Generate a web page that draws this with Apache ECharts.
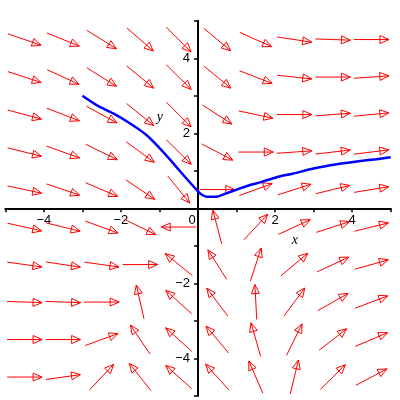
<!DOCTYPE html>
<html><head><meta charset="utf-8">
<script src="https://cdn.jsdelivr.net/npm/echarts@6/dist/echarts.min.js"></script>
<style>html,body{margin:0;padding:0;background:#fff}#c{width:400px;height:400px}</style>
</head><body><div id="c"></div>
<script>
// Direction-field sample points (columns x, rows y)
const gridX = [-4.5, -3.5, -2.5, -1.5, -0.5, 0.5, 1.5, 2.5, 3.5, 4.5];
const gridY = [4.5, 3.5, 2.5, 1.5, 0.5, -0.5, -1.5, -2.5, -3.5, -4.5];
// Arrow direction (degrees, counter-clockwise from +x) read per row of gridY
const arrowAngles = [
  [-19, -22, -32, -41, -45, -40, -24, -8.5, -2, 0],
  [-18, -24.5, -32, -39.5, -45, -39.5, -21, -6, 0, 4],
  [-15, -21, -28.6, -39, -45, -33, -12, 0, 4.4, 5.5],
  [-14, -19.6, -26, -36, -44.6, -27.6, 0, 4, 6.6, 7],
  [-12, -18.6, -23, -34, -51, 0, 20, 17.7, 13.6, 9.3],
  [-12.6, -13.7, -20, -26, 180, 104.7, 47, 24.8, 17.7, 13.8],
  [-8, -8.7, -8, 0, 141, 122.4, 72, 40, 25, 15.6],
  [-2, -2, 0, 102.7, 138, 127, 93, 53.4, 29.6, 20.7],
  [0, 0, 20, 124, 138, 130, 106, 63.7, 38, 23],
  [0, 8, 46.6, 128.5, 138, 132, 113.5, 76.5, 44.6, 28]
];
// Solution curve
const curveX = [-3, -2.63, -2.2, -1.77, -1.33, -0.99, -0.64, -0.34, 0, 0.1, 0.22, 0.48, 0.79, 1.09, 1.35, 1.61, 2.04, 2.48, 2.91, 3.34, 3.77, 4.21, 4.64, 5];
const curveY = [3, 2.75, 2.53, 2.27, 1.95, 1.6, 1.2, 0.84, 0.45, 0.36, 0.31, 0.31, 0.42, 0.53, 0.62, 0.69, 0.83, 0.93, 1.04, 1.13, 1.2, 1.26, 1.31, 1.36];
// Tick labels
const xTickLabels = [-4, -2, 0, 2, 4];
const yTickLabels = [-4, -2, 2, 4];

const fmt = v => (v < 0 ? '\u2212' + Math.abs(v) : String(v));

const arrowData = [];
gridY.forEach((y, r) => gridX.forEach((x, c) => arrowData.push([x, y, arrowAngles[r][c]])));
const curveData = curveX.map((x, i) => [x, curveY[i]]);

const ARROW_LEN = 35, HEAD_LEN = 9, HEAD_HALF = 4;
const G = {left: 5.3, right: 9.3, top: 20.8, bottom: 4.2};
const W = 400, H = 400;
const gw = W - G.left - G.right, gh = H - G.top - G.bottom;

const chart = echarts.init(document.getElementById('c'), null, {renderer: 'canvas'});
chart.setOption({
  animation: false,
  backgroundColor: '#ffffff',
  grid: {left: G.left, right: G.right, top: G.top, bottom: G.bottom, containLabel: false, outerBoundsMode: 'none'},
  xAxis: {
    type: 'value', min: -5, max: 5, interval: 1, position: 'bottom',
    offset: -gh / 2,
    axisLine: {onZero: false, lineStyle: {color: '#000', width: 2}},
    axisTick: {show: true, length: 4, lineStyle: {color: '#000', width: 1.5}},
    splitLine: {show: false},
    axisLabel: {
      margin: 6, color: '#000', fontFamily: 'Liberation Sans', fontSize: 13,
      formatter: v => xTickLabels.includes(v) ? (v === 0 ? '{z|0}' : fmt(v)) : '',
      rich: {z: {padding: [0, 12, 0, 0], fontFamily: 'Liberation Sans', fontSize: 13, color: '#000'}}
    }
  },
  yAxis: {
    type: 'value', min: -5, max: 5, interval: 1, position: 'left',
    offset: -gw / 2,
    axisLine: {onZero: false, lineStyle: {color: '#000', width: 2}},
    axisTick: {show: true, length: 4, lineStyle: {color: '#000', width: 1.5}},
    splitLine: {show: false},
    axisLabel: {
      margin: 8, color: '#000', fontFamily: 'Liberation Sans', fontSize: 13,
      formatter: v => yTickLabels.includes(v) ? fmt(v) : ''
    }
  },
  series: [
    {
      type: 'custom',
      data: arrowData,
      clip: true,
      z: 2,
      renderItem: function (params, api) {
        const c = api.coord([api.value(0), api.value(1)]);
        const a = api.value(2) * Math.PI / 180;
        const dx = Math.cos(a), dy = -Math.sin(a);
        const h = ARROW_LEN / 2;
        const tail = [c[0] - dx * h, c[1] - dy * h];
        const tip = [c[0] + dx * h, c[1] + dy * h];
        const bx = tip[0] - dx * HEAD_LEN, by = tip[1] - dy * HEAD_LEN;
        const nx = -dy, ny = dx;
        return {
          type: 'group',
          children: [
            {type: 'line', shape: {x1: tail[0], y1: tail[1], x2: tip[0], y2: tip[1]},
             style: {stroke: '#ff0000', lineWidth: 1}},
            {type: 'polygon', shape: {points: [tip, [bx + nx * HEAD_HALF, by + ny * HEAD_HALF], [bx - nx * HEAD_HALF, by - ny * HEAD_HALF]]},
             style: {stroke: '#ff0000', fill: 'none', lineWidth: 1}}
          ]
        };
      }
    },
    {
      type: 'line',
      data: curveData,
      showSymbol: false,
      symbol: 'none',
      smooth: 0.2,
      clip: true,
      z: 3,
      lineStyle: {color: '#0000ff', width: 2.5}
    }
  ]
});

const px = chart.convertToPixel({gridIndex: 0}, [2.51, -0.85]);
const py = chart.convertToPixel({gridIndex: 0}, [-0.99, 2.43]);
chart.setOption({
  graphic: [
    {type: 'text', x: px[0], y: px[1], style: {text: 'x', fontFamily: 'Liberation Serif', fontStyle: 'italic', fontSize: 14, fill: '#000', align: 'center', verticalAlign: 'middle'}},
    {type: 'text', x: py[0], y: py[1], style: {text: 'y', fontFamily: 'Liberation Serif', fontStyle: 'italic', fontSize: 14, fill: '#000', align: 'center', verticalAlign: 'middle'}}
  ]
});
</script>
</body></html>
